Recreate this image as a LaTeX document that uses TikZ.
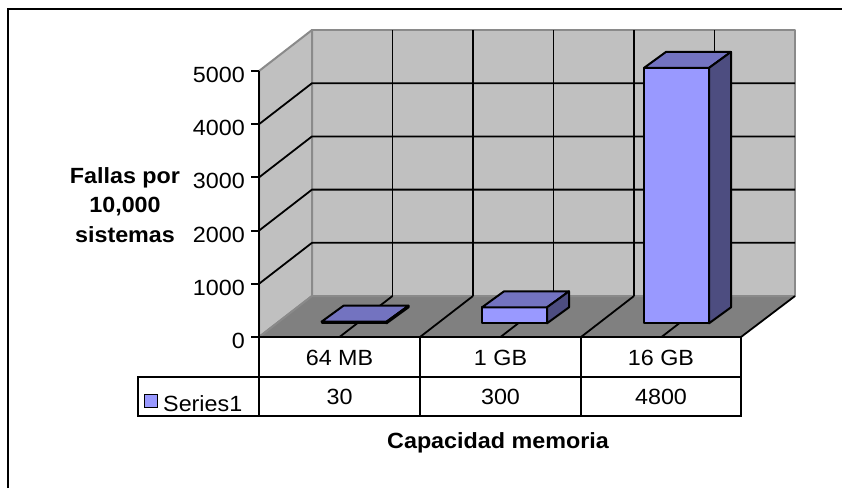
\documentclass[tikz,border=0pt]{standalone}
\usepackage{fontspec}
\setmainfont{Liberation Sans}[FakeStretch=1.06]
\definecolor{wallgray}{HTML}{C0C0C0}
\definecolor{floorgray}{HTML}{808080}
\definecolor{edgegray}{HTML}{8A8A8A}
\definecolor{barfront}{HTML}{9999FF}
\definecolor{bartop}{HTML}{7373C0}
\definecolor{barside}{HTML}{4D4D80}
% one 3D column: #1 = left x of its front face, #2 = value
\newcommand{\memBar}[2]{%
  \pgfmathsetmacro{\bh}{#2*0.0532}%
  \filldraw[barface,fill=barfront] (#1,323.3) rectangle (#1+65,323.3-\bh);
  \filldraw[barface,fill=bartop] (#1,323.3-\bh) -- ++(22,-16) -- ++(65,0) -- ++(-22,16) -- cycle;
  \filldraw[barface,fill=barside] (#1+65,323.3) -- ++(22,-16) -- ++(0,-\bh) -- ++(-22,16) -- cycle;
}
\begin{document}
\begin{tikzpicture}[x=1pt,y=-1pt,
  font=\fontsize{22}{29.5}\selectfont,
  grid/.style={black,line width=1.8pt},
  wall/.style={fill=wallgray,draw=edgegray,line width=2pt,line join=round},
  barface/.style={draw=black,line width=2pt,line join=round},
  cell/.style={draw=black,line width=1.6pt},
  lbl/.style={inner sep=0pt,anchor=center}]
\useasboundingbox (0,0) rectangle (842,488);

% chart frame (top and left edges)
\draw[line width=2.2pt] (8,488) -- (8,9) -- (842,9);

% back wall, side wall and floor
\filldraw[wall] (312,296) rectangle (795,30);
\filldraw[wall] (259,337) -- (312,296) -- (312,30) -- (259,71) -- cycle;
\fill[floorgray] (259,337) -- (312,296) -- (795,296) -- (741,337) -- cycle;
\draw[edgegray,line width=2pt] (259,337) -- (312,296) -- (795,296);

% gridlines
\foreach \k in {1,...,4}
  \draw[grid] (259,337-53.2*\k) -- ++(53,-41) -- (795,296-53.2*\k);
\foreach \i in {1,...,5}
  \draw[grid] (312+80.5*\i,296) -- (312+80.5*\i,30);
\foreach \i in {1,...,5}
  \draw[grid] (259+80.5*\i,337) -- ++(53,-41);
\draw[grid] (741,337) -- (795,296);

% columns
\memBar{321.5}{30}
\memBar{482}{300}
\memBar{644}{4800}

% value axis
\draw[line width=2pt] (259,71) -- (259,337);
\foreach \k/\v in {0/0,1/1000,2/2000,3/3000,4/4000,5/5000}{
  \draw[line width=2pt] (251,337-53.2*\k) -- (259,337-53.2*\k);
  \node[inner sep=0pt,anchor=east] (tick\k) at (245,341-53.2*\k) {\v};
}

% axis titles
\node[align=center,font=\bfseries\fontsize{22}{29.5}\selectfont,inner sep=0pt]
  (ytitle) at (125,205) {Fallas por\\10,000\\sistemas};
\node[font=\bfseries\fontsize{22}{29.5}\selectfont,inner sep=0pt]
  (xtitle) at (498,443) {Capacidad memoria};

% data table
\draw[cell] (259,376.7) -- (259,337) -- (741,337) -- (741,415.7) -- (137.7,415.7) -- (137.7,376.7) -- (741,376.7);
\draw[line width=2.4pt] (259,337) -- (741,337);
\foreach \x in {259,420,581}
  \draw[cell] (\x,337) -- (\x,415.7);
\node[lbl] (c1) at (339.5,357.5) {64 MB};
\node[lbl] (c2) at (500.5,357.5) {1 GB};
\node[lbl] (c3) at (661,357.5) {16 GB};
\node[lbl] (v1) at (339.5,397) {30};
\node[lbl] (v2) at (500.5,397) {300};
\node[lbl] (v3) at (661,397) {4800};
\filldraw[draw=black,fill=barfront,line width=1.6pt] (144.5,394.5) rectangle (157.5,407.5);
\node[inner sep=0pt,anchor=base west] (s1) at (163,411.5) {Series1};
\end{tikzpicture}
\end{document}
